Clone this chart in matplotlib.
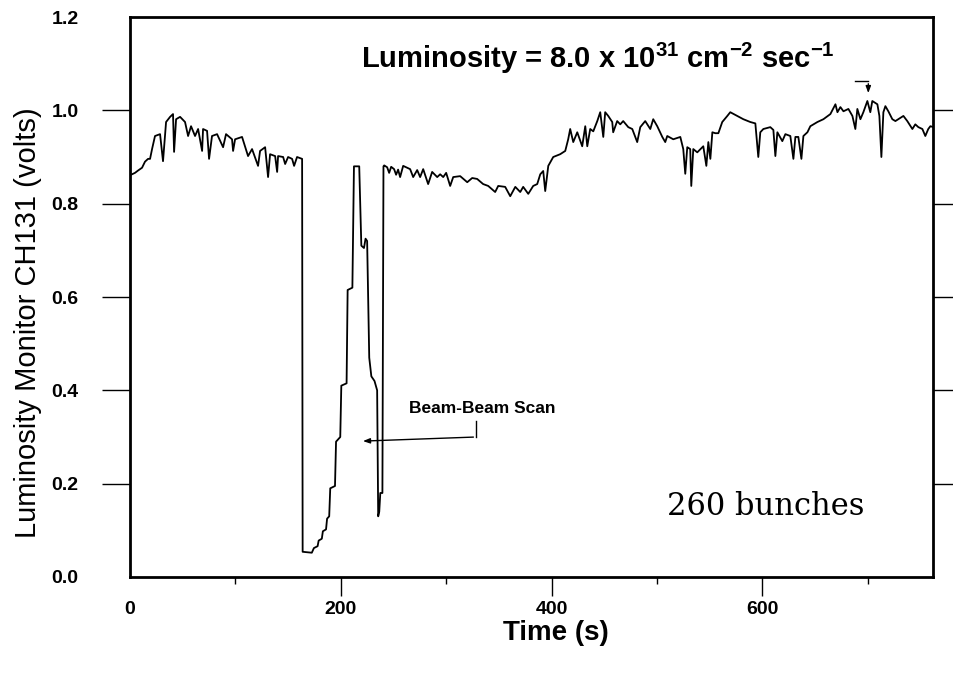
import matplotlib
matplotlib.use("Agg")
import matplotlib.pyplot as plt
from matplotlib import font_manager

# luminosity monitor trace (time in s, signal in volts)
pre_t = [0.0, 4.7, 7.6, 11.4, 14.2, 17.1, 19.0, 20.9, 23.7, 28.5, 31.3, 34.2, 38.0, 40.8,
         41.8, 43.7, 47.5, 52.2, 55.1, 57.9, 61.7, 64.6, 68.4, 69.3,
         73.1, 75.0, 77.8, 82.6, 88.3, 91.1, 96.8, 97.8, 99.7, 106.3,
         112.0, 115.8, 121.5, 123.4, 128.2, 131.0, 132.9, 137.7, 139.6, 140.5,
         145.3, 147.2, 150.0, 153.8, 155.7, 158.5, 163.3]
pre_v = [0.861, 0.866, 0.871, 0.877, 0.890, 0.896, 0.896, 0.917, 0.945, 0.949, 0.891, 0.975, 0.986, 0.992,
         0.911, 0.981, 0.986, 0.975, 0.945, 0.966, 0.945, 0.960, 0.913, 0.960,
         0.956, 0.896, 0.945, 0.949, 0.921, 0.949, 0.938, 0.913, 0.938, 0.943,
         0.902, 0.917, 0.881, 0.913, 0.921, 0.857, 0.906, 0.902, 0.868, 0.902,
         0.900, 0.885, 0.900, 0.896, 0.881, 0.900, 0.896]

scan_t = [163.8, 172.5, 174.5, 178.0, 179.0, 182.0, 183.0, 186.0, 187.0, 189.0,
          190.0, 194.5, 195.5, 199.5, 200.5, 205.5, 206.5, 211.0, 212.5, 217.5,
          219.5, 222.0, 223.5, 225.0, 227.0, 229.0, 232.0, 234.5, 235.5, 236.5,
          237.5, 239.5, 240.5]
scan_v = [0.054, 0.052, 0.062, 0.066, 0.078, 0.082, 0.098, 0.102, 0.125, 0.130,
          0.190, 0.195, 0.290, 0.300, 0.410, 0.415, 0.615, 0.620, 0.880, 0.880,
          0.710, 0.705, 0.725, 0.720, 0.470, 0.430, 0.420, 0.400, 0.130, 0.140,
          0.180, 0.180, 0.880]

post_t = [
    241.2, 244.0, 245.9, 247.8, 250.6, 252.5, 254.4, 256.3,
    259.2, 265.8, 268.7, 272.5, 275.3, 278.2, 282.9, 286.7,
    291.5, 294.3, 297.2, 300.0, 303.8, 306.7, 313.3, 320.0,
    324.7, 329.4, 335.1, 339.9, 346.5, 349.4, 356.0, 360.8,
    365.6, 370.3, 373.1, 377.9, 382.6, 386.4, 389.3, 392.1,
    394.0, 396.9, 401.6, 408.2, 413.0, 415.8, 417.7, 420.6,
    424.4, 429.1, 432.0, 433.9, 436.7, 439.6, 443.4, 446.2,
    449.1, 450.9, 453.8, 457.6, 458.5, 462.3, 465.2, 468.0,
    472.8, 476.6, 481.3, 484.2, 488.9, 493.7, 496.5, 500.3,
    505.1, 507.9, 509.8, 515.5, 522.2, 525.0, 526.9, 528.8,
    531.6, 532.6, 534.5, 538.3, 544.0, 546.9, 548.8, 550.7,
    552.6, 555.4, 558.3, 562.0, 566.8, 569.6, 576.3, 582.0,
    588.6, 593.4, 596.2, 598.1, 601.0, 607.6, 610.5, 612.4,
    614.3, 619.0, 621.9, 626.6, 629.5, 631.4, 634.2, 637.1,
    639.0, 642.8, 645.6, 652.3, 658.0, 664.6, 669.4, 671.3,
    674.1, 677.0, 681.7, 685.5, 688.3, 690.2, 693.1, 695.9,
    699.7, 702.5, 704.4, 709.2, 711.1, 713.0, 714.9, 716.8,
    719.6, 723.4, 726.3, 729.1, 733.9, 737.6, 742.4, 745.2,
    748.1, 751.9, 754.7, 757.5, 759.5, 762.4]
post_v = [
    0.882, 0.878, 0.866, 0.879, 0.874, 0.862, 0.873, 0.857,
    0.881, 0.874, 0.857, 0.872, 0.857, 0.874, 0.842, 0.868,
    0.857, 0.863, 0.857, 0.866, 0.838, 0.857, 0.859, 0.846,
    0.855, 0.853, 0.842, 0.838, 0.825, 0.838, 0.836, 0.816,
    0.836, 0.825, 0.836, 0.821, 0.838, 0.842, 0.863, 0.870,
    0.827, 0.881, 0.900, 0.906, 0.913, 0.938, 0.960, 0.932,
    0.953, 0.923, 0.966, 0.923, 0.960, 0.955, 0.977, 0.996,
    0.943, 0.996, 0.988, 0.975, 0.953, 0.977, 0.970, 0.977,
    0.964, 0.960, 0.932, 0.964, 0.977, 0.960, 0.981, 0.966,
    0.943, 0.932, 0.945, 0.938, 0.943, 0.917, 0.864, 0.921,
    0.917, 0.838, 0.917, 0.910, 0.923, 0.881, 0.932, 0.896,
    0.953, 0.951, 0.951, 0.975, 0.988, 0.996, 0.988, 0.981,
    0.975, 0.972, 0.900, 0.953, 0.960, 0.964, 0.958, 0.902,
    0.953, 0.934, 0.949, 0.945, 0.896, 0.943, 0.943, 0.896,
    0.945, 0.953, 0.966, 0.975, 0.981, 0.992, 1.013, 0.996,
    1.007, 0.998, 1.003, 0.988, 0.960, 1.003, 0.981, 0.996,
    1.020, 0.996, 1.020, 1.013, 0.988, 0.900, 0.996, 1.009,
    0.998, 0.981, 0.977, 0.981, 0.988, 0.977, 0.960, 0.970,
    0.964, 0.960, 0.945, 0.960, 0.966, 0.964]

x_major = [0, 200, 400, 600]
x_minor = [100, 300, 500, 700]
y_major = [0.0, 0.2, 0.4, 0.6, 0.8, 1.0, 1.2]

time_s = pre_t + scan_t + post_t
volts = pre_v + scan_v + post_v

installed = {f.name for f in font_manager.fontManager.ttflist}
tick_font = "Liberation Sans Narrow" if "Liberation Sans Narrow" in installed else "Liberation Sans"

plt.rcParams["font.family"] = ["Liberation Sans", "DejaVu Sans"]
plt.rcParams["mathtext.fontset"] = "custom"
plt.rcParams["mathtext.rm"] = "Liberation Sans:bold"
plt.rcParams["mathtext.bf"] = "Liberation Sans:bold"
plt.rcParams["mathtext.default"] = "bf"

fig = plt.figure(figsize=(9.54, 6.75), dpi=100)
ax = fig.add_axes([0.1363, 0.1452, 0.8417, 0.8296])

ax.plot(time_s, volts, color="black", lw=1.3)

ax.set_xlim(0, 762)
ax.set_ylim(0, 1.2)

for s in ax.spines.values():
    s.set_linewidth(2.0)

ax.set_xticks(x_major)
ax.set_xticks(x_minor, minor=True)
ax.set_yticks(y_major)
ax.set_yticklabels(["%.1f" % v for v in y_major])
ax.tick_params(axis="x", which="major", direction="out", length=14, width=1.0, pad=3.5)
ax.tick_params(axis="x", which="minor", direction="out", length=5, width=1.0)
ax.tick_params(axis="y", which="major", direction="out", length=20, width=1.0, pad=17,
               right=True, labelright=False)
for t in ax.xaxis.get_major_ticks()[:1]:
    t.tick1line.set_visible(False)
yt = ax.yaxis.get_major_ticks()
for t in (yt[0], yt[-1]):
    t.tick1line.set_visible(False)
    t.tick2line.set_visible(False)
for lab in ax.get_xticklabels() + ax.get_yticklabels():
    lab.set_fontfamily(tick_font)
    lab.set_fontweight("bold")
    lab.set_fontsize(14)

ax.set_ylabel("Luminosity Monitor CH131 (volts)", fontsize=21)
ax.yaxis.set_label_coords(-0.110, 0.455)
ax.set_xlabel("Time (s)", fontsize=20, fontweight="bold")
ax.xaxis.set_label_coords(0.53, -0.077)

# annotations
ax.text(219.3, 1.091, r"Luminosity = 8.0 x 10$^{31}$ cm$^{-2}$ sec$^{-1}$",
        fontsize=21, fontweight="bold", ha="left", va="baseline")
ax.plot([688.3, 700.6], [1.062, 1.062], color="black", lw=1.0)
ax.annotate("", xy=(700.6, 1.031), xytext=(700.6, 1.063),
            arrowprops=dict(arrowstyle="-|>,head_length=0.4,head_width=0.15", color="black", lw=1.0))

ax.text(265.0, 0.361, "Beam-Beam Scan", fontsize=12.5, fontweight="bold",
        ha="left", va="center")
ax.plot([328.5, 328.5], [0.334, 0.300], color="black", lw=1.0)
ax.annotate("", xy=(218.4, 0.291), xytext=(328.5, 0.300),
            arrowprops=dict(arrowstyle="-|>,head_length=0.4,head_width=0.15", color="black", lw=1.0))

ax.text(509.8, 0.133, "260 bunches", fontsize=22, family="DejaVu Serif",
        ha="left", va="baseline")

fig.savefig("out.png", dpi=100)
